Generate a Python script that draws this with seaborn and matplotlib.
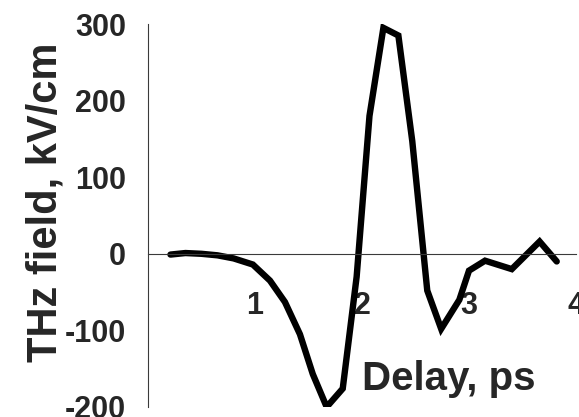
import matplotlib
matplotlib.use("Agg")
import matplotlib.pyplot as plt
from matplotlib.ticker import MultipleLocator
import seaborn as sns
import pandas as pd

# THz waveform: field versus delay
delay_ps = [0.21, 0.35, 0.50, 0.65, 0.80, 0.98, 1.14, 1.28, 1.42, 1.54, 1.67,
            1.82, 1.95, 2.07, 2.20, 2.34, 2.47, 2.61, 2.74, 2.91, 3.00, 3.15,
            3.40, 3.66, 3.82]
field_kv_cm = [-1, 1, 0, -2, -6, -14, -35, -63, -105, -157, -200,
               -176, -30, 180, 295, 285, 147, -48, -98, -60, -22, -9,
               -20, 16, -10]

x_major = [1, 2, 3, 4]
y_major = [-200, -100, 0, 100, 200, 300]

df = pd.DataFrame({"delay": delay_ps, "field": field_kv_cm})

sns.set_style("white")
plt.rcParams["font.family"] = ["Liberation Sans", "DejaVu Sans"]
plt.rcParams["font.weight"] = "bold"
plt.rcParams["axes.unicode_minus"] = False

fig = plt.figure(figsize=(5.79, 4.17), dpi=100)
ax = fig.add_axes([0.2556, 0.024, 0.7392, 0.9184])

sns.lineplot(data=df, x="delay", y="field", ax=ax, sort=False, estimator=None,
             color="black", linewidth=4.6, solid_capstyle="round",
             solid_joinstyle="miter")

ax.set_xlim(0, 4)
ax.set_ylim(-200, 300)

# x axis runs along zero field
ax.spines["bottom"].set_position(("data", 0))
for side in ("top", "right"):
    ax.spines[side].set_visible(False)
for side in ("left", "bottom"):
    ax.spines[side].set_color("#3a3a3a")
    ax.spines[side].set_linewidth(0.8)

ax.set_xticks(x_major)
ax.set_xticklabels([str(v) for v in x_major])
ax.xaxis.set_minor_locator(MultipleLocator(0.5))
ax.set_yticks(y_major)
ax.set_yticklabels([str(v) for v in y_major])
ax.yaxis.set_minor_locator(MultipleLocator(50))

ax.tick_params(axis="x", which="both", direction="out", length=5, width=0.8,
               color="#3a3a3a", labelsize=22, pad=22)
ax.tick_params(axis="y", which="major", direction="out", length=10, width=0.8,
               color="#3a3a3a", labelsize=22, pad=6)
ax.tick_params(axis="y", which="minor", direction="out", length=5, width=0.8,
               color="#3a3a3a")
for lab in ax.get_xticklabels() + ax.get_yticklabels():
    lab.set_fontweight("bold")

ax.set_ylabel("THz field, kV/cm", fontsize=30, fontweight="bold", va="center")
ax.yaxis.set_label_coords(-0.24, 0.535)
ax.set_xlabel("Delay, ps", fontsize=29, fontweight="bold", ha="left",
              va="baseline")
ax.xaxis.set_label_coords(0.5, 0.044)

fig.savefig("out.png", dpi=100)
